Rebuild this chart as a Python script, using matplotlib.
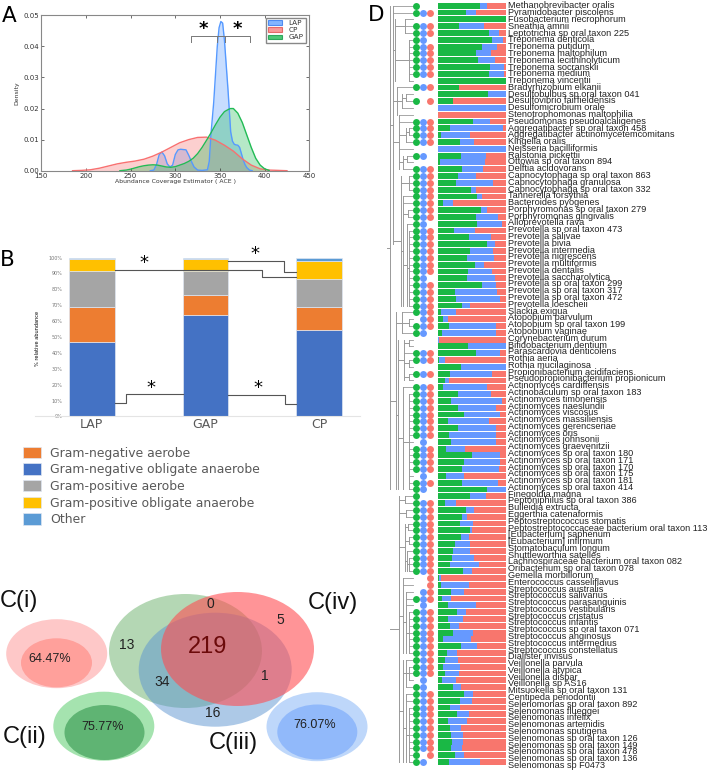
import matplotlib
matplotlib.use("Agg")
import matplotlib.pyplot as plt
from matplotlib.patches import Ellipse

W, H = 709, 770

# panel A
lap_x = [272, 276, 279, 282, 285, 288, 291, 294, 297, 300, 303, 306, 309, 312, 315, 318, 321, 325, 330, 336, 338, 340,
         343, 345, 347, 349, 351, 353, 355, 357, 359, 361, 362, 364, 366, 368, 370, 372, 374, 376, 378, 380, 383, 386]
lap_y = [0, .0002, .002, .0052, .006, .0048, .0022, .0012, .0018, .0052, .0067, .0069, .0068, .0067, .005, .003, .0012,
         .0002, .0001, .0003, .003, .012, .022, .031, .04, .046, .048, .0475, .042, .034, .026, .017, .0125, .0095,
         .0085, .0083, .0082, .0075, .0055, .0035, .002, .001, .0002, 0]
cp_x = [185, 195, 205, 215, 225, 235, 245, 255, 265, 275, 285, 295, 305, 315, 325, 335, 345, 355, 365, 375, 385, 395,
        405, 415, 425]
cp_y = [0, .0001, .0003, .0008, .0015, .0022, .0027, .0031, .0037, .0047, .006, .0075, .009, .01, .0107, .0108, .0098,
        .0082, .0063, .0038, .0018, .0006, .0002, .0001, 0]
gap_x = [238, 245, 250, 255, 260, 265, 270, 275, 280, 285, 290, 295, 300, 305, 310, 315, 320, 325, 330, 335, 340, 345,
         350, 355, 360, 362, 365, 370, 375, 380, 385, 390, 395, 400, 405]
gap_y = [0, .0002, .0005, .0009, .0013, .0016, .0018, .0019, .0018, .0015, .0012, .0011, .0013, .0018, .0023, .003,
         .004, .0055, .0075, .0098, .0122, .0148, .0172, .019, .0198, .02, .02, .0185, .0155, .0115, .0075, .004,
         .0018, .0006, .0001]

# panel B
groups = ["LAP", "GAP", "CP"]
gn_aerobe = [21.9, 12.6, 14.5]
gn_anaerobe = [46.8, 63.7, 54.6]
gp_aerobe = [22.9, 15.3, 17.5]
gp_anaerobe = [7.8, 7.6, 11.1]
other = [0.6, 0.8, 2.3]
pct_ticks = [0, 10, 20, 30, 40, 50, 60, 70, 80, 90, 100]

# panel C
venn_counts = ["219", "0", "5", "13", "34", "1", "16"]
core_pct = ["64.47%", "75.77%", "76.07%"]

# panel D
species = ["Methanobrevibacter oralis", "Pyramidobacter piscolens", "Fusobacterium necrophorum", "Sneathia amnii",
           "Leptotrichia sp oral taxon 225", "Treponema denticola", "Treponema putidum", "Treponema maltophilum",
           "Treponema lecithinolyticum", "Treponema socranskii", "Treponema medium", "Treponema vincentii",
           "Bradyrhizobium elkanii", "Desulfobulbus sp oral taxon 041", "Desulfovibrio fairfieldensis",
           "Desulfomicrobium orale", "Stenotrophomonas maltophilia", "Pseudomonas pseudoalcaligenes",
           "Aggregatibacter sp oral taxon 458", "Aggregatibacter actinomycetemcomitans", "Kingella oralis",
           "Neisseria bacilliformis", "Ralstonia pickettii", "Ottowia sp oral taxon 894", "Delftia acidovorans",
           "Capnocytophaga sp oral taxon 863", "Capnocytophaga granulosa", "Capnocytophaga sp oral taxon 332",
           "Tannerella forsythia", "Bacteroides pyogenes", "Porphyromonas sp oral taxon 279",
           "Porphyromonas gingivalis", "Alloprevotella rava", "Prevotella sp oral taxon 473", "Prevotella salivae",
           "Prevotella bivia", "Prevotella intermedia", "Prevotella nigrescens", "Prevotella multiformis",
           "Prevotella dentalis", "Prevotella saccharolytica", "Prevotella sp oral taxon 299",
           "Prevotella sp oral taxon 317", "Prevotella sp oral taxon 472", "Prevotella loescheii", "Slackia exigua",
           "Atopobium parvulum", "Atopobium sp oral taxon 199", "Atopobium vaginae", "Corynebacterium durum",
           "Bifidobacterium dentium", "Parascardovia denticolens", "Rothia aeria", "Rothia mucilaginosa",
           "Propionibacterium acidifaciens", "Pseudopropionibacterium propionicum", "Actinomyces cardiffensis",
           "Actinobaculum sp oral taxon 183", "Actinomyces timonensis", "Actinomyces naeslundii",
           "Actinomyces viscosus", "Actinomyces massiliensis", "Actinomyces gerencseriae", "Actinomyces oris",
           "Actinomyces johnsonii", "Actinomyces graevenitzii", "Actinomyces sp oral taxon 180",
           "Actinomyces sp oral taxon 171", "Actinomyces sp oral taxon 170", "Actinomyces sp oral taxon 175",
           "Actinomyces sp oral taxon 181", "Actinomyces sp oral taxon 414", "Finegoldia magna",
           "Peptoniphilus sp oral taxon 386", "Bulleidia extructa", "Eggerthia catenaformis",
           "Peptostreptococcus stomatis", "Peptostreptococcaceae bacterium oral taxon 113", "[Eubacterium] saphenum",
           "[Eubacterium] infirmum", "Stomatobaculum longum", "Shuttleworthia satelles",
           "Lachnospiraceae bacterium oral taxon 082", "Oribacterium sp oral taxon 078", "Gemella morbillorum",
           "Enterococcus casseliflavus", "Streptococcus australis", "Streptococcus salivarius",
           "Streptococcus parasanguinis", "Streptococcus vestibularis", "Streptococcus cristatus",
           "Streptococcus infantis", "Streptococcus sp oral taxon 071", "Streptococcus anginosus",
           "Streptococcus intermedius", "Streptococcus constellatus", "Dialister invisus", "Veillonella parvula",
           "Veillonella atypica", "Veillonella dispar", "Veillonella sp AS16", "Mitsuokella sp oral taxon 131",
           "Centipeda periodontii", "Selenomonas sp oral taxon 892", "Selenomonas flueggei", "Selenomonas infelix",
           "Selenomonas artemidis", "Selenomonas sputigena", "Selenomonas sp oral taxon 126",
           "Selenomonas sp oral taxon 149", "Selenomonas sp oral taxon 478", "Selenomonas sp oral taxon 136",
           "Selenomonas sp F0473"]
green_share = [.62, .41, 1, .31, .755, .79, .64, .56, .59, .77, .75, 1, .31, .735, .22, 0, 0, .52, .17, .05, .32, 0,
               .34, .03, .35, .29, .265, .485, .58, .08, .63, .565, .58, .24, .46, .715, .475, .425, .545, .445, .43,
               .65, .255, .27, .35, .05, .075, .16, .065, 0, .445, .56, .02, .34, .175, .10, .075, .295, .195, .30,
               .38, .145, .295, .16, .19, .12, .50, .38, .35, .12, .35, .725, .475, .11, .415, .36, .325, .475, .34,
               .255, .22, .205, .18, .37, .02, .045, .195, .06, .14, .28, .145, .17, .215, .075, .34, .13, .10, .075,
               .10, .06, .215, .385, .325, .17, .285, .145, .175, .195, .205, .195, .25, .165]
blue_end = [.72, .56, 1, .67, .89, .96, .87, .78, .84, .965, .965, 1, .31, 1, .22, 1, 0, .765, .96, .47, .53, 1, .70,
            .69, .66, .56, .81, .56, .65, .225, .715, .88, .94, .55, .785, .835, .815, .82, .675, .80, .84, .86, .87,
            .905, .47, .265, .14, .85, .85, .02, 1, .915, .11, 1, .79, .16, .715, .785, .935, .85, .905, .745, .85,
            .85, .85, .395, .91, .905, .90, .38, .885, 1, .71, .26, .53, .42, .52, .495, .455, .465, .47, .53, .61,
            .50, .05, .46, .385, .19, .56, .405, .37, .315, .52, .485, .575, .285, .29, .32, .315, .265, .345, .51,
            .505, .32, .455, .425, .335, .37, .37, .35, .38, .62]
red_share = [1 - b for b in blue_end]
blue_share = [b - g for b, g in zip(blue_end, green_share)]
presence = ["G", "GBR", "", "GBR", "GBR", "GB", "GBR", "GBR", "GBR", "GBR", "GBR", "", "GBR", "", "GR", "", "", "GBR",
            "GBR", "GBR", "GBR", "", "GB", "", "GBR", "GBR", "GBR", "GBR", "GBR", "GBR", "GBR", "GBR", "GB", "GBR",
            "GBR", "GBR", "GBR", "GBR", "GBR", "GBR", "GB", "GBR", "GBR", "GBR", "GBR", "GBR", "BR", "GBR", "GB", "",
            "", "GBR", "GBR", "", "GBR", "", "GBR", "GBR", "GBR", "GBR", "GBR", "GBR", "GBR", "GBR", "B", "GBR",
            "GBR", "GBR", "GBR", "B", "GBR", "GB", "G", "GBR", "GBR", "GBR", "GBR", "GBR", "GBR", "GBR", "GBR", "GBR",
            "GBR", "GBR", "R", "R", "BR", "GBR", "B", "GBR", "GBR", "GBR", "GBR", "GBR", "GBR", "GBR", "GBR", "GBR",
            "GBR", "B", "GB", "GBR", "GBR", "GBR", "GBR", "GBR", "GBR", "GBR", "GBR", "GBR", "GR", "GB"]
# clades of the tree: branch x, first row, last row, parent x
clades = [(60, 1, 72, 50), (70, 1, 36, 60), (75, 3, 12, 70), (105, 3, 5, 75), (118, 6, 12, 75), (82, 13, 17, 70),
          (95, 14, 16, 82), (108, 14, 15, 95), (88, 17, 25, 70), (108, 19, 21, 88), (118, 19, 20, 108),
          (100, 23, 25, 88), (112, 23, 24, 100), (92, 26, 45, 70), (118, 26, 28, 92), (100, 29, 45, 92),
          (115, 31, 32, 100), (112, 33, 45, 100), (118, 34, 45, 112), (78, 46, 72, 60), (95, 46, 49, 78),
          (118, 47, 48, 95), (85, 50, 72, 78), (102, 50, 56, 85), (118, 50, 51, 102), (118, 53, 54, 102),
          (118, 55, 56, 102), (100, 57, 72, 85), (118, 58, 72, 100), (88, 73, 112, 60), (105, 73, 74, 88),
          (108, 75, 76, 88), (105, 77, 84, 88), (115, 77, 78, 105), (118, 79, 80, 105), (110, 81, 84, 105),
          (118, 82, 84, 110), (100, 85, 96, 88), (108, 87, 96, 100), (118, 90, 96, 108), (100, 97, 112, 88),
          (108, 97, 101, 100), (118, 98, 100, 108), (108, 102, 112, 100), (118, 104, 112, 108)]

GREEN, BLUE, RED = "#1ab845", "#6699ff", "#f8766d"
GREY_TXT = "#595959"


def ax_px(fig, x0, y0, x1, y1, **kw):
    return fig.add_axes([x0 / W, 1 - y1 / H, (x1 - x0) / W, (y1 - y0) / H], **kw)


fig = plt.figure(figsize=(W / 100, H / 100), dpi=100)

# overlay for panel letters and the venn shapes, in pixels
ov = ax_px(fig, 0, 0, W, H, zorder=1)
ov.set_xlim(0, W)
ov.set_ylim(H, 0)
ov.axis("off")
for txt, x, y in [("A", 9, 15.5), ("B", 7, 260), ("D", 376, 15)]:
    ov.text(x, y, txt, fontsize=15.5, ha="center", va="center")

# panel A
axa = ax_px(fig, 41.3, 15.3, 309.3, 170.7, zorder=2)
for xs, ys, c, name in [(lap_x, lap_y, "#5599ff", "LAP"), (cp_x, cp_y, "#f87070", "CP"), (gap_x, gap_y, "#22bb55", "GAP")]:
    axa.fill_between(xs, ys, color=c, alpha=0.33, lw=0)
    axa.plot(xs, ys, color=c, lw=1)
axa.set_xlim(150, 450)
axa.set_ylim(0, 0.05)
axa.set_xticks([150, 200, 250, 300, 350, 400, 450])
axa.set_yticks([0, .01, .02, .03, .04, .05], ["0.00", "0.01", "0.02", "0.03", "0.04", "0.05"])
axa.tick_params(labelsize=5, length=2, width=0.5, direction="in", pad=1.5, colors="#333333", top=True, right=True)
axa.set_xlabel("Abundance Coverage Estimator ( ACE )", fontsize=4.4, labelpad=0, color="#333333")
axa.set_ylabel("Density", fontsize=4.4, color="#333333")
axa.yaxis.set_label_coords(-0.08, 0.5)
for s in axa.spines.values():
    s.set_color("#888888")
    s.set_linewidth(0.8)
handles = [plt.Rectangle((0, 0), 1, 1, fc=c, ec=e, alpha=0.8, lw=0.8)
           for c, e in [("#66a3ff", "#3377ee"), ("#f88080", "#e05050"), ("#22bb55", "#119944")]]
leg = axa.legend(handles, ["LAP", "CP", "GAP"], loc="upper right", bbox_to_anchor=(.9877, .9846), fontsize=5.2,
                 borderaxespad=0, borderpad=0.35, handlelength=1.95, handleheight=0.6, labelspacing=0.15,
                 handletextpad=0.85, fancybox=False, edgecolor="#888888", framealpha=1)
leg.get_frame().set_linewidth(1)
for t in leg.get_texts():
    t.set_color("#333333")
for a, b in [(318, 355.6), (347, 384)]:
    axa.plot([a, a, b, b], [.0415, .0435, .0435, .0415], color="#777777", lw=0.7)
axa.text(331.5, .0455, "*", fontsize=13, ha="center", va="center", fontweight="bold")
axa.text(369, .0455, "*", fontsize=13, ha="center", va="center", fontweight="bold")

# panel B
axb = ax_px(fig, 35, 257.6, 360, 416.4, zorder=2)
series = [("Gram-negative obligate anaerobe", gn_anaerobe, "#4472c4"), ("Gram-negative aerobe", gn_aerobe, "#ed7d31"),
          ("Gram-positive aerobe", gp_aerobe, "#a5a5a5"), ("Gram-positive obligate anaerobe", gp_anaerobe, "#ffc000"),
          ("Other", other, "#5b9bd5")]
bottom = [0, 0, 0]
bars = {}
for name, vals, c in series:
    bars[name] = axb.bar(range(3), vals, 0.40, bottom=bottom, color=c, edgecolor="#dfe6f2", lw=0.5)
    bottom = [b + v for b, v in zip(bottom, vals)]
axb.set_xlim(-0.5, 2.36)
axb.set_ylim(0, 100)
axb.set_xticks(range(3), groups)
axb.set_yticks(pct_ticks, [str(p) + "%" for p in pct_ticks])
axb.tick_params(axis="y", length=0, labelsize=3.5, labelcolor="#777777", pad=-20)
axb.tick_params(axis="x", length=0, labelsize=9, labelcolor=GREY_TXT, pad=1)
axb.set_ylabel("% relative abundance", fontsize=3.6)
axb.yaxis.set_label_coords(0.015, 0.49)
for s in ["top", "right", "left"]:
    axb.spines[s].set_visible(False)
axb.spines["bottom"].set_color("#e4e4e4")
# significance steps, bar units
for xs, ys in [([.2, 1.5, 1.5, 1.8], [92.1, 92.1, 87.5, 87.5]), ([1.2, 1.69, 1.69, 1.8], [98.1, 98.1, 90.8, 90.8]),
               ([.2, .3, .3, .8], [8.3, 8.3, 14, 14]), ([1.2, 1.7, 1.7, 1.8], [13.4, 13.4, 7.7, 7.7])]:
    axb.plot(xs, ys, color="#555555", lw=0.8, clip_on=False)
for x, y in [(.46, 96.5), (1.44, 102.5), (.52, 18), (1.46, 18)]:
    axb.text(x, y, "*", fontsize=13, ha="center", va="center", clip_on=False)
order = ["Gram-negative aerobe", "Gram-negative obligate anaerobe", "Gram-positive aerobe",
         "Gram-positive obligate anaerobe", "Other"]
legb = fig.legend([bars[n][0] for n in order], order, loc="upper left", bbox_to_anchor=(22.5 / W, 1 - 446.5 / H),
                  frameon=False, fontsize=8.9, handlelength=1.5, handleheight=1.05, labelspacing=0.3,
                  handletextpad=0.75, borderpad=0, borderaxespad=0)
for t in legb.get_texts():
    t.set_color(GREY_TXT)

# panel C
for xy, w, h, c in [((185.5, 651), 153, 114, (0.35, 0.66, 0.35, 0.45)), ((215.2, 669.7), 153, 114, (0.36, 0.58, 0.82, 0.5)),
                    ((237.5, 649), 153, 114, (1, 0.3, 0.32, 0.6)), ((56.7, 653.7), 101, 69, "#fec8c8"),
                    ((56.5, 662.8), 71, 49, "#ffa09b"), ((103.8, 726.2), 101, 69, "#a5e3af"),
                    ((104.5, 732.5), 80, 55, "#5fb473"), ((317, 726.7), 101, 69, "#bed7fa"),
                    ((317.3, 732), 80, 55, "#91b9fa")]:
    ov.add_patch(Ellipse(xy, w, h, fc=c, ec="none"))
count_pos = [(208, 647), (210, 604), (280, 620), (127, 645), (162, 682), (264.5, 676.5), (213, 713)]
for i in range(len(venn_counts)):
    big = venn_counts[i] == "219"
    ov.text(count_pos[i][0], count_pos[i][1], venn_counts[i], family="Liberation Sans", fontsize=17 if big else 10,
            ha="center", va="center", color="#6b0a0a" if big else "#222222")
for txt, pos in zip(core_pct, [(49.5, 659.5), (102.5, 727.5), (315, 725.5)]):
    ov.text(pos[0], pos[1], txt, family="Liberation Sans", fontsize=9, ha="center", va="center", color="#222222")
for txt, x, y in [("C(i)", 19, 601.5), ("C(ii)", 24.5, 737), ("C(iii)", 233, 743), ("C(iv)", 332.5, 603)]:
    ov.text(x, y, txt, family="Liberation Sans", fontsize=17, ha="center", va="center", color="#111111")

# panel D, rows share one vertical scale in the three axes
top, bot = 2, 768
row0, pitch = 5.7, 6.814
row_lim = ((bot - row0) / pitch, (top - row0) / pitch)
rows = list(range(len(green_share)))

axbar = ax_px(fig, 438, top, 506, bot, zorder=2)
axbar.barh(rows, green_share, 0.86, color=GREEN)
axbar.barh(rows, blue_share, 0.86, left=green_share, color=BLUE)
axbar.barh(rows, red_share, 0.86, left=blue_end, color=RED)
axbar.set_xlim(0, 1)
axbar.set_ylim(row_lim)
axbar.axis("off")

axdot = ax_px(fig, 412, top, 436, bot, zorder=3)
for col, code, c in [(0, "G", GREEN), (1, "B", BLUE), (2, "R", RED)]:
    ys = [r for r in rows if code in presence[r]]
    axdot.scatter([col] * len(ys), ys, s=25, color=c, lw=0)
axdot.set_xlim(-4 / 7.15, 20 / 7.15)
axdot.set_ylim(row_lim)
axdot.axis("off")

axtree = ax_px(fig, 370, top, 416, bot, zorder=2)
for x, r0, r1, px in clades:
    axtree.plot([x, x], [r0 - 1, r1 - 1], color="#999999", lw=0.7)
    axtree.plot([px, x], [(r0 + r1) / 2 - 1] * 2, color="#999999", lw=0.7)
for r in rows:
    inner = max(c[0] for c in clades if c[1] <= r + 1 <= c[2])
    axtree.plot([inner, 130], [r, r], color="#999999", lw=0.6)
axtree.set_xlim(0, 138)
axtree.set_ylim(row_lim)
axtree.axis("off")

# species names run on their own slightly different spacing
axlab = ax_px(fig, 506, top, 507, bot, zorder=4)
axlab.set_ylim((bot - 5) / 6.78, (top - 5) / 6.78)
axlab.yaxis.tick_right()
axlab.set_yticks(range(len(species)), species, family="Liberation Sans", fontsize=6.6, color="#222222")
axlab.tick_params(axis="y", length=0, pad=0.5)
axlab.set_xticks([])
for s in axlab.spines.values():
    s.set_visible(False)
axlab.patch.set_alpha(0)

plt.savefig("out.png", dpi=100)
